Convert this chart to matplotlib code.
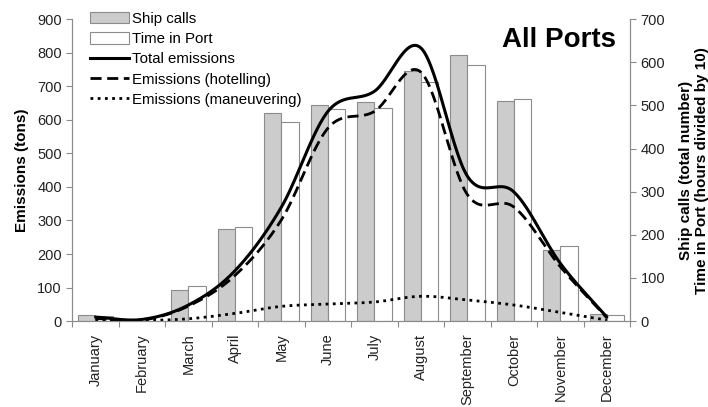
import numpy as np
import matplotlib
matplotlib.use('Agg')
import matplotlib.pyplot as plt
from matplotlib.patches import Patch
from matplotlib.lines import Line2D

plt.rcParams['font.family'] = ['Liberation Sans', 'DejaVu Sans']

months = ['January', 'February', 'March', 'April', 'May', 'June', 'July',
          'August', 'September', 'October', 'November', 'December']

# right axis (ship calls / time in port, hours / 10)
ship_calls = [14, 0, 72, 213, 482, 500, 508, 580, 616, 510, 165, 16]
time_in_port = [12, 0, 81, 219, 461, 491, 494, 554, 594, 514, 174, 15]

# left axis (tons)
total_em = [12, 5, 48, 150, 340, 625, 685, 814, 432, 385, 172, 12]
hotel_em = [8, 3, 45, 136, 302, 575, 625, 742, 377, 340, 162, 10]
manoeuv_em = [3, 2, 7, 23, 44, 51, 57, 74, 63, 48, 26, 3]


def smooth(x, y, n=30):
    # Excel-like smoothed line (Catmull-Rom through the points)
    x = np.asarray(x, float)
    y = np.asarray(y, float)
    xs, ys = [], []
    for i in range(len(x) - 1):
        y0 = y[i - 1] if i > 0 else y[i]
        y3 = y[i + 2] if i + 2 < len(y) else y[i + 1]
        m1 = (y[i + 1] - y0) / (2 if i > 0 else 1)
        m2 = (y3 - y[i]) / (2 if i + 2 < len(y) else 1)
        t = np.linspace(0, 1, n)
        h00 = 2 * t**3 - 3 * t**2 + 1
        h10 = t**3 - 2 * t**2 + t
        h01 = -2 * t**3 + 3 * t**2
        h11 = t**3 - t**2
        xs.append(x[i] + t * (x[i + 1] - x[i]))
        ys.append(h00 * y[i] + h10 * m1 + h01 * y[i + 1] + h11 * m2)
    return np.concatenate(xs), np.concatenate(ys)


fig = plt.figure(figsize=(7.08, 4.07), dpi=100)
ax = fig.add_axes([0.102, 0.211, 0.788, 0.742])
ax2 = ax.twinx()

pos = np.arange(len(months)) + 0.5
w = 0.37
ax2.bar(pos - w / 2, ship_calls, w, color='#cccccc', edgecolor='#8c8c8c', linewidth=0.8)
ax2.bar(pos + w / 2, time_in_port, w, color='white', edgecolor='#8c8c8c', linewidth=0.8)

sx, sy = smooth(pos, total_em)
ax.plot(sx, sy, color='black', lw=2.2, solid_capstyle='round')
sx, sy = smooth(pos, hotel_em)
ax.plot(sx, sy, color='black', lw=2.0, dashes=(4, 2))
sx, sy = smooth(pos, manoeuv_em)
ax.plot(sx, sy, color='black', lw=2.0, dashes=(1, 1.6))

ax.set_zorder(ax2.get_zorder() + 1)
ax.patch.set_visible(False)

ax.set_xlim(0, 12)
ax.set_ylim(0, 900)
ax2.set_ylim(0, 700)
ax.set_yticks(range(0, 901, 100))
ax2.set_yticks(range(0, 701, 100))

ax.set_xticks(np.arange(0, 13))
ax.set_xticklabels([])
ax.set_xticks(pos, minor=True)
ax.set_xticklabels(months, minor=True, rotation=90, fontsize=10.5, color='#222222')
ax.tick_params(axis='x', which='minor', length=0, pad=9)
ax.tick_params(axis='x', which='major', length=4, color='#8c8c8c')
ax.tick_params(axis='y', labelsize=10.5, length=4, color='#8c8c8c', labelcolor='#222222')
ax2.tick_params(axis='y', labelsize=10.5, length=4, color='#8c8c8c', labelcolor='#222222')

for a in (ax, ax2):
    a.spines['top'].set_visible(False)
    for s in ('left', 'right', 'bottom'):
        a.spines[s].set_color('#8c8c8c')

ax.set_ylabel('Emissions (tons)', fontsize=11, fontweight='bold', labelpad=6)
ax2.set_ylabel('Ship calls (total number)\nTime in Port (hours divided by 10)',
               fontsize=11, fontweight='bold', labelpad=10)

ax.text(0.975, 0.93, 'All Ports', transform=ax.transAxes, ha='right', va='center',
        fontsize=20, fontweight='bold')

handles = [Patch(facecolor='#cccccc', edgecolor='#8c8c8c', lw=0.8),
           Patch(facecolor='white', edgecolor='#8c8c8c', lw=0.8),
           Line2D([], [], color='black', lw=2.2),
           Line2D([], [], color='black', lw=2.0, dashes=(4, 2)),
           Line2D([], [], color='black', lw=2.0, dashes=(1, 1.6))]
labels = ['Ship calls', 'Time in Port', 'Total emissions',
          'Emissions (hotelling)', 'Emissions (maneuvering)']
fig.legend(handles, labels, loc='upper left', bbox_to_anchor=(0.112, 0.997),
           frameon=False, fontsize=10.8, handlelength=2.6, handleheight=0.8,
           labelspacing=0.42, handletextpad=0.2, borderaxespad=0.3)

fig.savefig('out.png', dpi=100)
